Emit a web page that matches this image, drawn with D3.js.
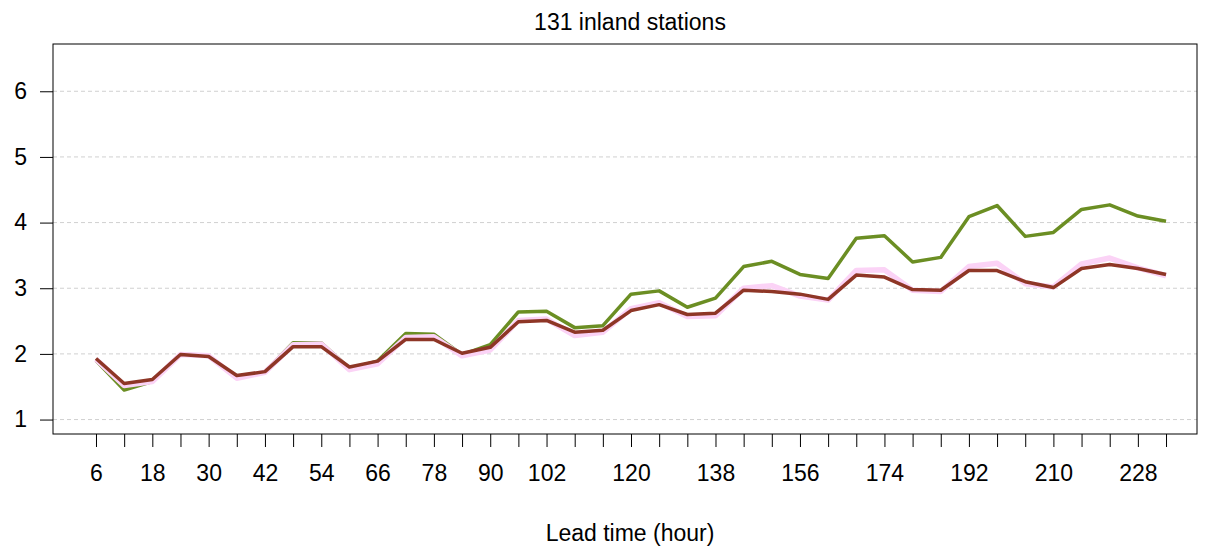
<!DOCTYPE html>
<html>
<head>
<meta charset="utf-8">
<script src="https://cdn.jsdelivr.net/npm/d3@7"></script>
<style>
  body { margin: 0; background: #fff; }
  svg { display: block; font-family: "Liberation Sans", Arial, sans-serif; }
</style>
</head>
<body>
<svg id="chart" width="1208" height="546"></svg>
<script>
// ---- data ----
const leadTimes = [6,12,18,24,30,36,42,48,54,60,66,72,78,84,90,96,102,108,114,120,126,132,138,144,150,156,162,168,174,180,186,192,198,204,210,216,222,228,234];
const shownLabels = [6,18,30,42,54,66,78,90,102,120,138,156,174,192,210,228];
const yTicks = [1,2,3,4,5,6];
const greenSeries = [1.90,1.45,1.58,2.00,1.97,1.63,1.73,2.17,2.17,1.78,1.89,2.31,2.30,1.99,2.14,2.64,2.65,2.40,2.43,2.91,2.96,2.71,2.85,3.33,3.41,3.21,3.15,3.76,3.80,3.40,3.47,4.09,4.26,3.79,3.85,4.20,4.27,4.10,4.02];
const pinkSeries  = [1.92,1.52,1.58,1.99,1.97,1.63,1.72,2.14,2.15,1.76,1.85,2.25,2.26,1.97,2.06,2.51,2.53,2.28,2.33,2.69,2.78,2.57,2.58,3.00,3.04,2.88,2.82,3.27,3.28,2.97,2.95,3.33,3.38,3.07,3.02,3.37,3.46,3.31,3.19];
const redSeries   = [1.93,1.55,1.61,1.99,1.96,1.67,1.73,2.11,2.11,1.80,1.89,2.22,2.22,2.01,2.10,2.49,2.51,2.33,2.36,2.66,2.75,2.60,2.62,2.97,2.95,2.91,2.83,3.20,3.17,2.98,2.97,3.27,3.27,3.10,3.01,3.30,3.36,3.30,3.21];
const titleText = "131 inland stations";
const xLabelText = "Lead time (hour)";

// ---- layout ----
const svg = d3.select("#chart");
const box = {left: 53, right: 1197, top: 44, bottom: 434};

const x = d3.scaleLinear().domain([-1.527, 39.1]).range([box.left, box.right]);
const y = d3.scaleLinear().domain([0.78, 6.72]).range([box.bottom, box.top]);

// grid
svg.append("g").selectAll("line").data(yTicks).join("line")
  .attr("x1", box.left).attr("x2", box.right)
  .attr("y1", d => y(d)).attr("y2", d => y(d))
  .attr("stroke", "#d0d0d0").attr("stroke-width", 1).attr("stroke-dasharray", "4,3");

// lines
const line = d3.line().x((d, i) => x(i)).y(d => y(d));
const series = [
  {data: greenSeries, color: "#6b8e23", width: 3.5},
  {data: pinkSeries, color: "#fbd3f6", width: 5.5},
  {data: redSeries, color: "#8e3626", width: 3.5}
];
svg.append("g").selectAll("path").data(series).join("path")
  .attr("d", d => line(d.data))
  .attr("fill", "none")
  .attr("stroke", d => d.color)
  .attr("stroke-width", d => d.width)
  .attr("stroke-linejoin", "round");

// box
svg.append("rect")
  .attr("x", box.left).attr("y", box.top)
  .attr("width", box.right - box.left).attr("height", box.bottom - box.top)
  .attr("fill", "none").attr("stroke", "#000").attr("stroke-width", 1);

// x axis
const xAxis = d3.axisBottom(x)
  .tickValues(leadTimes.map((d, i) => i))
  .tickSize(13)
  .tickPadding(18)
  .tickFormat(i => shownLabels.includes(leadTimes[i]) ? leadTimes[i] : "");
const gx = svg.append("g").attr("transform", `translate(0,${box.bottom})`).call(xAxis);
gx.select(".domain").remove();
gx.selectAll("text").attr("font-size", 23).attr("fill", "#000").attr("font-family", "Liberation Sans, Arial, sans-serif");
gx.selectAll("line").attr("stroke", "#000");

// y axis
const yAxis = d3.axisLeft(y).tickValues(yTicks).tickSize(13).tickPadding(13).tickFormat(d3.format("d"));
const gy = svg.append("g").attr("transform", `translate(${box.left},0)`).call(yAxis);
gy.select(".domain").remove();
gy.selectAll("text").attr("font-size", 23).attr("fill", "#000").attr("font-family", "Liberation Sans, Arial, sans-serif");
gy.selectAll("line").attr("stroke", "#000");

// title and label
svg.append("text").attr("x", (box.left + box.right) / 2 + 5).attr("y", 30)
  .attr("text-anchor", "middle").attr("font-size", 23).text(titleText);
svg.append("text").attr("x", (box.left + box.right) / 2 + 5).attr("y", 541)
  .attr("text-anchor", "middle").attr("font-size", 23).text(xLabelText);
</script>
</body>
</html>
